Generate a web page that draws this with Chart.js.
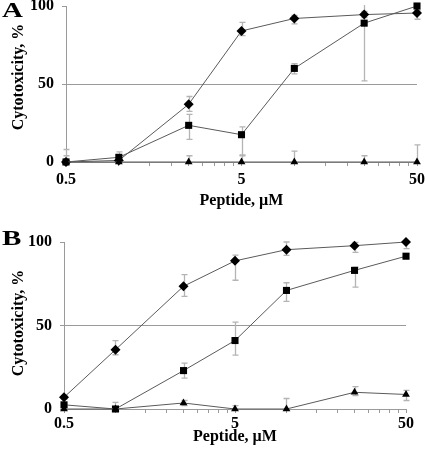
<!DOCTYPE html>
<html>
<head>
<meta charset="utf-8">
<script src="https://cdn.jsdelivr.net/npm/chart.js@4/dist/chart.umd.min.js"></script>
<style>
  html, body { margin: 0; padding: 0; background: #fff; }
  body { width: 425px; height: 454px; position: relative; overflow: hidden; }
  .panel { position: absolute; left: 0; width: 425px; height: 227px; }
  .letter { position: absolute; left: 2px; font-family: 'Liberation Serif', 'Times New Roman', serif; font-weight: bold; font-size: 20px; line-height: 20px; transform: scaleX(1.45); transform-origin: left top; color: #000; }
</style>
</head>
<body>
<div class="panel" style="top:0"><canvas id="cA"></canvas></div>
<div class="panel" style="top:227px"><canvas id="cB"></canvas></div>
<div class="letter" style="top:0px">A</div>
<div class="letter" style="top:228px">B</div>
<script>
// ---------- data ----------
const peptideConc = [0.5, 1, 2.5, 5, 10, 25, 50];
const xTickValues = [0.5, 1, 1.5, 2, 2.5, 3, 3.5, 4, 4.5, 5, 10, 15, 20, 25, 30, 35, 40, 45, 50];
const xTickLabels = [0.5, 5, 50];
const yTickValues = [0, 50, 100];
const xTitleText = 'Peptide, µM';
const yTitleText = 'Cytotoxicity, %';

// Panel A
const aDiamond      = [0, 1, 37, 84, 92, 94.5, 95.5];
const aDiamondUp    = [4, 2, 5, 5.5, 2, 2, 2];
const aDiamondDown  = [4, 2, 4.5, 3, 3.5, 2, 4];
const aSquare       = [0, 3, 23.5, 17.5, 60, 89, 100];
const aSquareUp     = [8, 3.5, 7, 5, 3, 37, 3];
const aSquareDown   = [8, 3.5, 9, 13, 3.5, 37, 3];
const aTriangle     = [0, 0, 0, 0, 0, 0, 0];
const aTriangleUp   = [2, 2, 4, 4, 7, 4, 11];
const aTriangleDown = [2, 2, 4, 4, 7, 4, 11];

// Panel B
const bDiamond      = [7, 35.5, 73.5, 88.7, 95.4, 97.8, 100];
const bDiamondUp    = [1, 5.5, 7, 3.5, 4.6, 2, 1];
const bDiamondDown  = [1, 3, 6, 11.6, 3.4, 4, 4];
const bSquare       = [2.5, 0, 23, 41, 71, 83, 91.5];
const bSquareUp     = [1, 4, 4.5, 11, 4.6, 2, 1.5];
const bSquareDown   = [1, 1, 4.5, 8.7, 6.6, 10, 1.5];
const bTriangle     = [0, 0, 3.6, 0, 0, 10, 8.7];
const bTriangleUp   = [1, 1, 1.5, 2, 6.3, 3.4, 2.4];
const bTriangleDown = [1, 1, 1.5, 2, 2, 2, 3.6];

// ---------- style ----------
const FONT_FAMILY = "'Liberation Serif', 'Times New Roman', serif";
Chart.defaults.font.family = FONT_FAMILY;
Chart.defaults.font.size = 16;
Chart.defaults.font.weight = 'bold';
Chart.defaults.color = '#000';

const LINE = '#5a5a5a';
const AXIS = '#9a9a9a';
const ERR = '#b4b4b4';

const errorBars = {
  id: 'errorBars',
  beforeDatasetsDraw(chart) {
    const ctx = chart.ctx, area = chart.chartArea;
    const xs = chart.scales.x, ys = chart.scales.y;
    ctx.save();
    ctx.beginPath();
    ctx.rect(area.left - 5, area.top - 1, area.right - area.left + 10, area.bottom - area.top + 1);
    ctx.clip();
    ctx.strokeStyle = ERR;
    ctx.lineWidth = 1.3;
    chart.data.datasets.forEach(ds => {
      ds.data.forEach((p, i) => {
        const px = Math.round(xs.getPixelForValue(p.x)) + 0.5;
        const yT = ys.getPixelForValue(p.y + ds.errUp[i]);
        const yB = ys.getPixelForValue(p.y - ds.errDown[i]);
        ctx.beginPath();
        ctx.moveTo(px, yT); ctx.lineTo(px, yB);
        ctx.moveTo(px - 3, yT); ctx.lineTo(px + 3, yT);
        ctx.moveTo(px - 3, yB); ctx.lineTo(px + 3, yB);
        ctx.stroke();
      });
    });
    ctx.restore();
  }
};

// vertical axis title placed at a fixed spot beside the y axis
const yTitle = {
  id: 'yTitle',
  afterDraw(chart, args, opts) {
    const ctx = chart.ctx;
    ctx.save();
    ctx.translate(opts.x, opts.y);
    ctx.rotate(-Math.PI / 2);
    ctx.font = 'bold 16px ' + FONT_FAMILY;
    ctx.fillStyle = '#000';
    ctx.textAlign = 'center';
    ctx.textBaseline = 'middle';
    ctx.fillText(yTitleText, 0, 0);
    ctx.restore();
  }
};

function series(vals, up, down, style, radius) {
  return {
    data: peptideConc.map((x, i) => ({ x: x, y: vals[i] })),
    errUp: up, errDown: down,
    borderColor: LINE, borderWidth: 1,
    pointStyle: style, pointRadius: radius,
    pointBackgroundColor: '#000', pointBorderColor: '#000', pointBorderWidth: 0,
    tension: 0, clip: false
  };
}

function makeChart(id, datasets, cfg) {
  return new Chart(document.getElementById(id), {
    type: 'line',
    data: { datasets: datasets },
    plugins: [errorBars, yTitle],
    options: {
      responsive: true, maintainAspectRatio: false,
      animation: false, events: [],
      layout: { padding: { left: 0, right: cfg.right, top: cfg.top, bottom: 0 } },
      plugins: {
        legend: { display: false }, tooltip: { enabled: false },
        yTitle: { x: 19, y: cfg.yTitleY }
      },
      scales: {
        x: {
          type: 'logarithmic', min: 0.5, max: 50, offset: false,
          afterBuildTicks: s => { s.ticks = xTickValues.map(v => ({ value: v })); },
          afterFit: s => { s.height = cfg.xHeight; s.paddingLeft = 0; s.paddingRight = 0; },
          ticks: {
            autoSkip: false, maxRotation: 0, minRotation: 0, padding: cfg.xTickPad,
            callback: v => xTickLabels.includes(v) ? String(v) : ''
          },
          grid: { drawOnChartArea: false, color: AXIS, tickColor: AXIS, tickLength: 4 },
          border: { color: AXIS, width: 1 },
          title: { display: true, text: xTitleText, padding: { top: 0, bottom: cfg.xTitlePad } }
        },
        y: {
          min: 0, max: 100,
          afterBuildTicks: s => { s.ticks = yTickValues.map(v => ({ value: v })); },
          afterFit: s => { s.width = cfg.yWidth; s.paddingTop = 0; s.paddingBottom = 0; },
          ticks: { padding: 8 },
          grid: {
            color: c => (c.tick && c.tick.value === 50) ? AXIS : 'rgba(0,0,0,0)',
            tickColor: AXIS, tickLength: 4, lineWidth: 1
          },
          border: { color: AXIS, width: 1 },
          title: { display: false }
        }
      }
    }
  });
}

makeChart('cA', [
  series(aTriangle, aTriangleUp, aTriangleDown, 'triangle', 4.5),
  series(aSquare, aSquareUp, aSquareDown, 'rect', 5),
  series(aDiamond, aDiamondUp, aDiamondDown, 'rectRot', 5)
], { right: 8, top: 6, xHeight: 65, yWidth: 66, xTickPad: 4, xTitlePad: 17, yTitleY: 77 });

makeChart('cB', [
  series(bTriangle, bTriangleUp, bTriangleDown, 'triangle', 4.5),
  series(bSquare, bSquareUp, bSquareDown, 'rect', 5),
  series(bDiamond, bDiamondUp, bDiamondDown, 'rectRot', 5)
], { right: 19, top: 15, xHeight: 45, yWidth: 64, xTickPad: 1, xTitlePad: 8, yTitleY: 96 });
</script>
</body>
</html>
